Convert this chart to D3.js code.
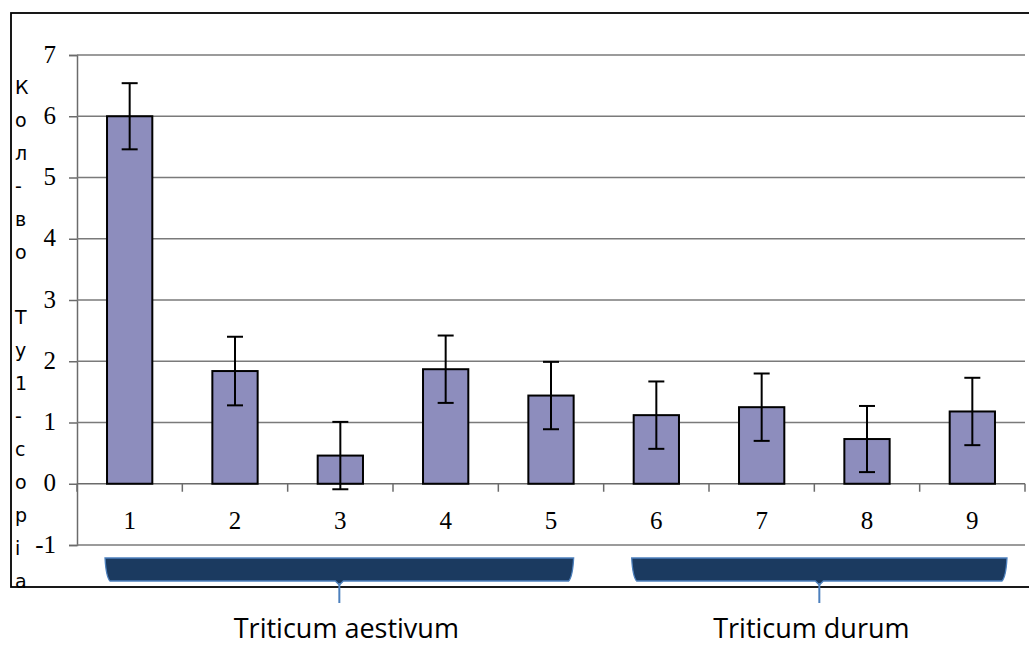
<!DOCTYPE html>
<html><head><meta charset="utf-8">
<script src="https://cdn.jsdelivr.net/npm/d3@7"></script>
<style>body{margin:0;background:#fff}svg{display:block}</style>
</head><body><svg id="c" width="1029" height="645"></svg>
<script>
const categories = ["1","2","3","4","5","6","7","8","9"];
const values = [6.0, 1.84, 0.46, 1.87, 1.44, 1.12, 1.25, 0.73, 1.18];
const errors = [0.54, 0.56, 0.55, 0.55, 0.55, 0.55, 0.55, 0.54, 0.55];
const yTicks = [-1, 0, 1, 2, 3, 4, 5, 6, 7];
const groupNames = ["Triticum aestivum", "Triticum durum"];
const groupFirst = ["1", "6"];
const groupLast = ["5", "9"];
const yTitle = "Кол-во Ту1-сорiа";

const svg = d3.select("#c");
const x0 = 77, x1 = 1025, yTop = 55, yBot = 545;

// outer border
svg.append("rect").attr("x", 11).attr("y", 13).attr("width", 1030).attr("height", 574)
  .attr("fill", "none").attr("stroke", "#000").attr("stroke-width", 1.8);

const x = d3.scaleBand().domain(categories).range([x0, x1]).paddingInner(0.57).paddingOuter(0.285);
const step = x.step();
const y = d3.scaleLinear().domain([-1, 7]).range([yBot, yTop]);

// y axis
const yAxis = d3.axisLeft(y).tickValues(yTicks).tickSize(8).tickPadding(13).tickFormat(d => String(d));
const gy = svg.append("g").attr("transform", `translate(${x0},0)`).call(yAxis);
gy.select(".domain").attr("stroke", "#6b6b6b").attr("stroke-width", 1.5);
gy.selectAll(".tick line").attr("stroke", "#6b6b6b").attr("stroke-width", 1.5);
gy.selectAll(".tick text").attr("font-family", "Liberation Serif, serif").attr("font-size", 25)
  .attr("fill", "#000").attr("dy", "0.28em");

// gridlines
svg.append("g").selectAll("line").data(yTicks.filter(d => d !== 0)).join("line")
  .attr("x1", x0).attr("x2", x1).attr("y1", d => y(d)).attr("y2", d => y(d))
  .attr("stroke", "#7a7a7a").attr("stroke-width", 1.5);

// x axis at 0
svg.append("line").attr("x1", x0).attr("x2", x1).attr("y1", y(0)).attr("y2", y(0))
  .attr("stroke", "#6b6b6b").attr("stroke-width", 1.5);
svg.append("g").selectAll("line").data(d3.range(categories.length + 1)).join("line")
  .attr("x1", i => x0 + i * step).attr("x2", i => x0 + i * step)
  .attr("y1", y(0)).attr("y2", y(0) + 8)
  .attr("stroke", "#6b6b6b").attr("stroke-width", 1.5);
svg.append("g").selectAll("text").data(categories).join("text")
  .attr("x", d => x(d) + x.bandwidth() / 2).attr("y", y(0) + 45)
  .attr("text-anchor", "middle").attr("font-family", "Liberation Serif, serif").attr("font-size", 25)
  .text(d => d);

// bars
svg.append("g").selectAll("rect").data(categories).join("rect")
  .attr("x", d => x(d)).attr("width", x.bandwidth())
  .attr("y", (d, i) => y(Math.max(0, values[i])))
  .attr("height", (d, i) => Math.abs(y(values[i]) - y(0)))
  .attr("fill", "#8d8dbd").attr("stroke", "#000").attr("stroke-width", 2);

// error bars
const eg = svg.append("g").attr("stroke", "#000").attr("stroke-width", 2);
categories.forEach((c, i) => {
  const cx = x(c) + x.bandwidth() / 2;
  const hi = y(values[i] + errors[i]), lo = y(values[i] - errors[i]);
  eg.append("line").attr("x1", cx).attr("x2", cx).attr("y1", hi).attr("y2", lo);
  eg.append("line").attr("x1", cx - 8).attr("x2", cx + 8).attr("y1", hi).attr("y2", hi);
  eg.append("line").attr("x1", cx - 8).attr("x2", cx + 8).attr("y1", lo).attr("y2", lo);
});

// y title, one letter per line
const t = svg.append("text").attr("font-family", "DejaVu Sans, sans-serif").attr("font-size", 19)
  .attr("fill", "#000").attr("text-anchor", "start");
Array.from(yTitle).forEach((ch, i) => {
  t.append("tspan").attr("x", 15).attr("y", 94 + i * 32.9).text(ch === " " ? "\u00a0" : ch);
});

// group braces
groupNames.forEach((g, k) => {
  const bl = x(groupFirst[k]) - 2;
  const br = x(groupLast[k]) + x.bandwidth() + (k === 1 ? 12 : 0);
  const mid = (bl + br) / 2;
  const top = 558, bot = 581;
  const path = `M${bl},${top} L${br},${top} Q${br - 1},${bot - 4} ${br - 5},${bot} L${mid + 4},${bot} L${mid},${bot + 4} L${mid - 4},${bot} L${bl + 5},${bot} Q${bl + 1},${bot - 4} ${bl},${top} Z`;
  svg.append("path").attr("d", path).attr("fill", "#1b3a60").attr("stroke", "#4d80bd").attr("stroke-width", 1.3);
  svg.append("line").attr("x1", mid).attr("x2", mid).attr("y1", bot + 2).attr("y2", 603)
    .attr("stroke", "#4d80bd").attr("stroke-width", 2);
  svg.append("text").attr("x", mid + (k === 0 ? 7 : -8)).attr("y", 638).attr("text-anchor", "middle")
    .attr("font-family", "Open Sans, Noto Sans, sans-serif").attr("font-size", 27).attr("fill", "#000")
    .text(g);
});
</script></body></html>
